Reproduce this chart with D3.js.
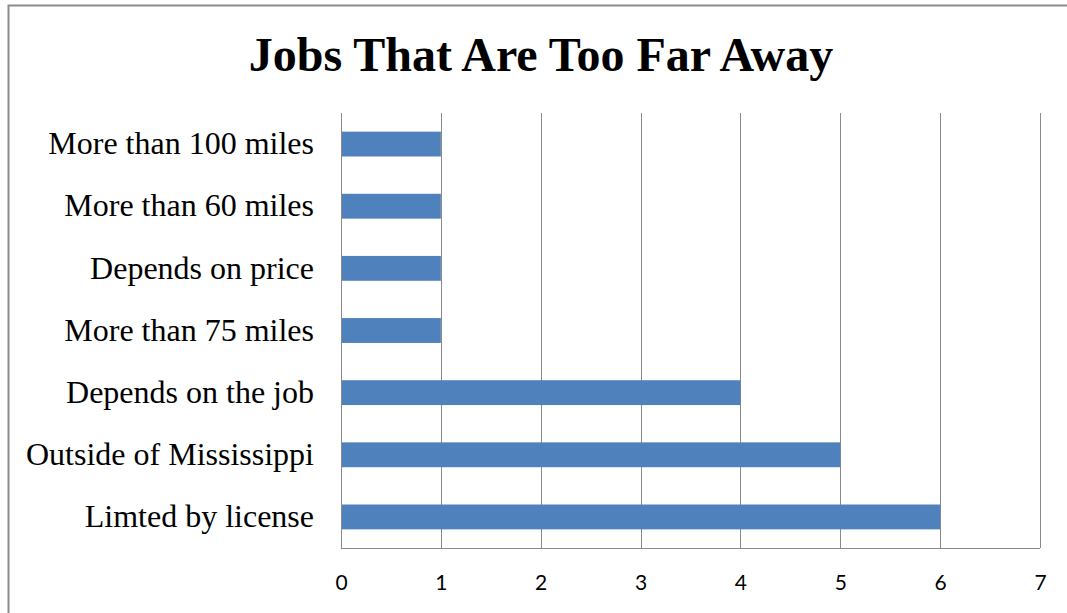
<!DOCTYPE html>
<html>
<head>
<meta charset="utf-8">
<script src="https://cdn.jsdelivr.net/npm/d3@7"></script>
<style>
  html, body { margin: 0; padding: 0; background: #fff; }
  svg { display: block; }
</style>
</head>
<body>
<svg id="chart" width="1067" height="613"></svg>
<script>
// Answers, listed top to bottom as shown
const categories = [
  "More than 100 miles",
  "More than 60 miles",
  "Depends on price",
  "More than 75 miles",
  "Depends on the job",
  "Outside of Mississippi",
  "Limted by license"
];
const counts = [1, 1, 1, 1, 4, 5, 6];
const xTicks = [0, 1, 2, 3, 4, 5, 6, 7];
const chartTitle = "Jobs That Are Too Far Away";

const svg = d3.select("#chart");
const W = 1067, H = 613;
const margin = { left: 341, right: 27, top: 113, bottom: 65 };
const plotW = W - margin.left - margin.right;
const plotH = H - margin.top - margin.bottom;

// Outer chart frame
svg.append("rect")
  .attr("x", 8.5).attr("y", 5.5)
  .attr("width", W + 10).attr("height", H + 10)
  .attr("fill", "#fff")
  .attr("stroke", "#8c8c8c")
  .attr("stroke-width", 2);

svg.append("text")
  .attr("x", 541).attr("y", 71)
  .attr("text-anchor", "middle")
  .attr("font-family", "'Liberation Serif', 'Times New Roman', serif")
  .attr("font-weight", "bold")
  .attr("font-size", 48)
  .attr("fill", "#000")
  .text(chartTitle);

const x = d3.scaleLinear().domain([0, 7]).range([0, plotW]);
const y = d3.scaleBand().domain(categories).range([0, plotH]).paddingInner(0.6).paddingOuter(0.3);

const g = svg.append("g").attr("transform", `translate(${margin.left},${margin.top})`);

// Vertical gridlines
g.append("g")
  .selectAll("line")
  .data(xTicks)
  .join("line")
  .attr("x1", d => Math.round(x(d)) + 0.5)
  .attr("x2", d => Math.round(x(d)) + 0.5)
  .attr("y1", 0).attr("y2", plotH)
  .attr("stroke", "#8a8a8a")
  .attr("stroke-width", 1);

// Bottom axis line
g.append("line")
  .attr("x1", 0).attr("x2", plotW)
  .attr("y1", plotH + 0.5).attr("y2", plotH + 0.5)
  .attr("stroke", "#8a8a8a");

// Bars
g.append("g")
  .selectAll("rect")
  .data(categories.map((c, i) => ({ c, v: counts[i] })))
  .join("rect")
  .attr("x", x(0) + 1)
  .attr("y", d => y(d.c))
  .attr("width", d => x(d.v) - x(0) - 1)
  .attr("height", y.bandwidth())
  .attr("fill", "#4f81bd");

// X axis tick labels
const xAxis = d3.axisBottom(x).tickValues(xTicks).tickFormat(d3.format("d")).tickSize(0).tickPadding(27);
const xg = g.append("g").attr("transform", `translate(0,${plotH})`).call(xAxis);
xg.select(".domain").remove();
xg.selectAll("text")
  .attr("font-family", "Lato, 'Open Sans', sans-serif")
  .attr("font-size", 21)
  .attr("fill", "#000");

// Category labels
const yAxis = d3.axisLeft(y).tickSize(0).tickPadding(27);
const yg = g.append("g").call(yAxis);
yg.select(".domain").remove();
yg.selectAll("text")
  .attr("font-family", "'Liberation Serif', 'Times New Roman', serif")
  .attr("font-size", 32)
  .attr("fill", "#000");
</script>
</body>
</html>
